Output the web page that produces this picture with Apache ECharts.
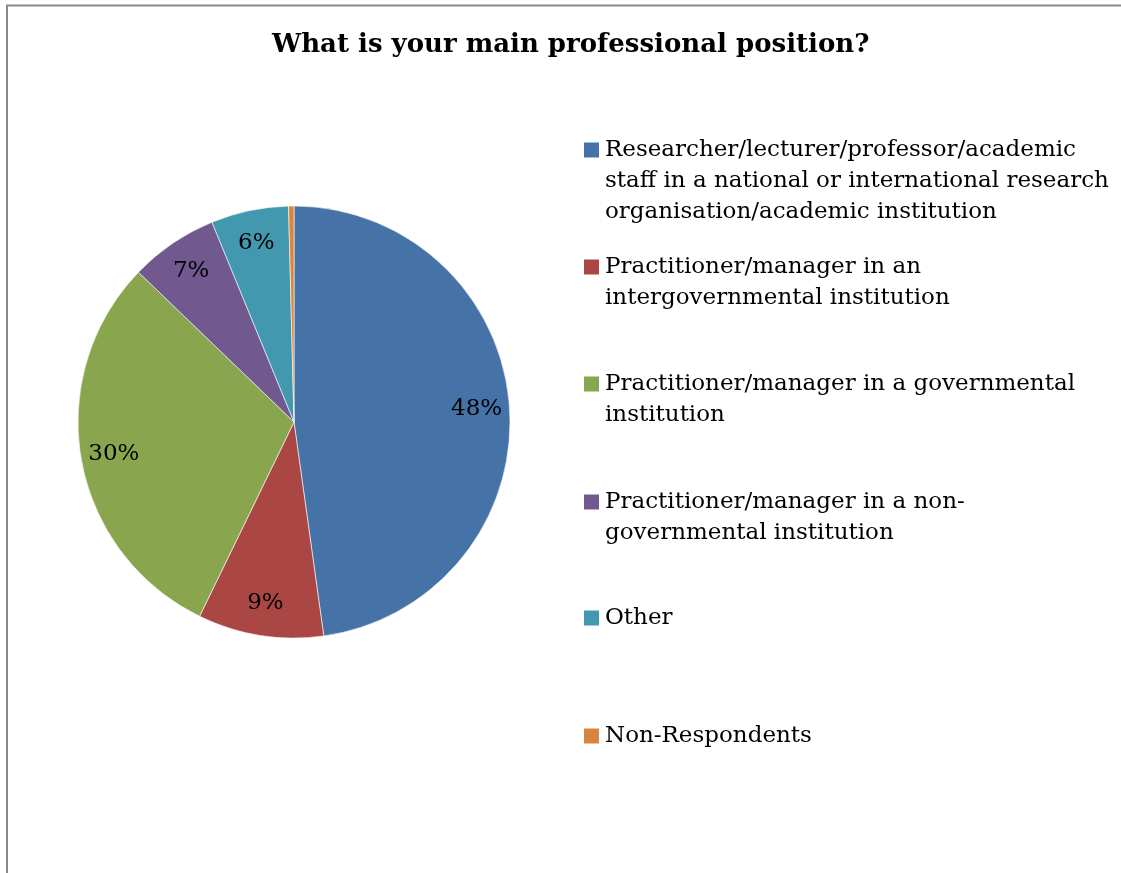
<!DOCTYPE html>
<html>
<head>
<meta charset="utf-8">
<script src="https://cdn.jsdelivr.net/npm/echarts@6/dist/echarts.min.js"></script>
<style>
  html, body { margin: 0; padding: 0; background: #fff; }
  #chart { width: 1121px; height: 873px; }
</style>
</head>
<body>
<div id="chart"></div>
<script>
// survey answers, share of respondents (%)
const categories = [
  'Researcher/lecturer/professor/academic staff in a national or international research organisation/academic institution',
  'Practitioner/manager in an intergovernmental institution',
  'Practitioner/manager in a governmental institution',
  'Practitioner/manager in a non-governmental institution',
  'Other',
  'Non-Respondents'
];
// how each legend entry wraps in the reference
const legendLines = [
  ['Researcher/lecturer/professor/academic', 'staff in a national or international research', 'organisation/academic institution'],
  ['Practitioner/manager in an', 'intergovernmental institution'],
  ['Practitioner/manager in a governmental', 'institution'],
  ['Practitioner/manager in a non-', 'governmental institution'],
  ['Other'],
  ['Non-Respondents']
];
const shares = [47.8, 9.4, 30.0, 6.6, 5.8, 0.4];
const colors = ['#4572A7', '#AA4643', '#89A54E', '#71588F', '#4198AF', '#DB843D'];

const FONT = '"DejaVu Serif", serif';
const LINE_H = 31;
const legendCenters = [150, 267, 384, 502, 618, 736];

const chart = echarts.init(document.getElementById('chart'));

const pieData = categories.map((name, i) => ({
  name: name,
  value: shares[i],
  itemStyle: { color: colors[i] }
}));

// one legend per entry so the marker sits on the first text line
const legends = categories.map((name, i) => {
  const n = legendLines[i].length;
  const blockH = (2 * n - 1) * LINE_H;
  return {
    data: [{ name: name, icon: 'rect' }],
    orient: 'vertical',
    left: 582,
    top: legendCenters[i] - blockH / 2,
    padding: 0,
    itemWidth: 17,
    itemHeight: 17,
    itemGap: 0,
    selectedMode: false,
    formatter: () => '\n'.repeat(n - 1) + legendLines[i].join('\n'),
    textStyle: {
      fontFamily: FONT,
      fontSize: 23,
      color: '#000',
      lineHeight: LINE_H
    }
  };
});

chart.setOption({
  backgroundColor: '#fff',
  animation: false,
  title: {
    text: 'What is your main professional position?',
    left: 267,
    top: 27,
    textStyle: { fontFamily: FONT, fontSize: 26, fontWeight: 'bold', color: '#000' }
  },
  legend: legends,
  graphic: [{
    type: 'rect',
    shape: { x: 7, y: 5.5, width: 1300, height: 1000 },
    style: { fill: 'none', stroke: '#888', lineWidth: 2 },
    silent: true
  }],
  series: [
    {
      name: 'position',
      type: 'pie',
      center: [294, 422],
      radius: [0, 216],
      startAngle: 90,
      clockwise: true,
      silent: true,
      label: { show: false },
      labelLine: { show: false },
      itemStyle: { borderColor: '#fff', borderWidth: 0.6 },
      data: pieData
    },
    {
      // transparent ring that only carries the percentage labels
      name: 'labels',
      type: 'pie',
      center: [294, 422],
      radius: [144, 216],
      startAngle: 90,
      clockwise: true,
      silent: true,
      itemStyle: { color: 'rgba(0,0,0,0)' },
      label: {
        show: true,
        position: 'inside',
        fontFamily: FONT,
        fontSize: 23,
        color: '#000',
        formatter: p => (p.percent < 1 ? '' : Math.round(p.percent) + '%')
      },
      labelLine: { show: false },
      data: categories.map((name, i) => ({ name: name, value: shares[i] }))
    }
  ]
});
</script>
</body>
</html>
